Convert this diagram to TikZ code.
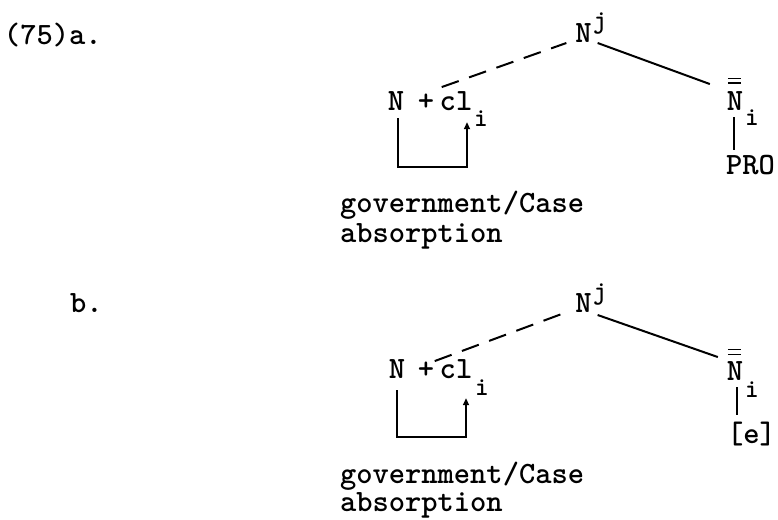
\documentclass[tikz,border=0pt]{standalone}
\usetikzlibrary{arrows.meta}
\newcommand\ttbig{\fontsize{31}{36}\selectfont\ttfamily\bfseries}
\newcommand\ttsmall{\fontsize{26}{30}\selectfont\ttfamily\bfseries}
\begin{document}
\begin{tikzpicture}[x=1pt,y=-1pt,
  lbl/.style={inner sep=0pt,outer sep=0pt,font=\ttbig,anchor=base},
  lblw/.style={inner sep=0pt,outer sep=0pt,font=\ttbig,anchor=base west},
  idx/.style={inner sep=0pt,outer sep=0pt,font=\ttsmall,anchor=base},
  branch/.style={line width=2pt},
  dbranch/.style={line width=2pt,dash pattern=on 18pt off 11pt},
  bracket/.style={line width=1.6pt},
  bar/.style={line width=1.6pt},
  tip/.style={-{Triangle[length=7pt,width=6pt]}}]
\useasboundingbox (0,0) rectangle (778,519);

% ---------- (75)a ----------
\node[lblw] (labA) at (4,45) {(75)a.};
\node[lbl] (Nja) at (583.5,42) {N};
\node[idx] (ja) at (600,29) {j};
\node[lbl] (Nla) at (396,110) {N};
\node[lbl] (plusa) at (426,110) {+};
\node[lbl] (cla) at (456,110) {cl};
\node[idx] (ia) at (481,126) {i};
\node[lbl] (Nba) at (735,110) {N};
\node[idx] (iba) at (752,125) {i};
\node[lblw] (PROa) at (726,174) {PRO};
\node[lblw] (gova) at (340,212) {government/Case};
\node[lblw] (absa) at (340,242) {absorption};

\draw[dbranch] ([shift={(2,-4)}]cla.north west) -- ([shift={(-9,1)}]Nja.south west);
\draw[branch] ([shift={(6,1)}]Nja.south east) -- ([shift={(-17,-7)}]Nba.north west);
\draw[bar] ([shift={(1,-12.7)}]Nba.north west) -- ([shift={(14,-12.7)}]Nba.north west);
\draw[bar] ([shift={(1,-8)}]Nba.north west) -- ([shift={(14,-8)}]Nba.north west);
\draw[branch] ([shift={(-1,7)}]Nba.south) -- ([shift={(-1,40)}]Nba.south);
\draw[bracket,tip] ([shift={(2,8)}]Nla.south) |- ([shift={(11,57)}]cla.south) -- ([shift={(11,12)}]cla.south);

% ---------- b ----------
\node[lblw] (labB) at (70,312) {b.};
\node[lbl] (Njb) at (583.5,312) {N};
\node[idx] (jb) at (600,299) {j};
\node[lbl] (Nlb) at (397,378) {N};
\node[lbl] (plusb) at (426,378) {+};
\node[lbl] (clb) at (456,378) {cl};
\node[idx] (ib) at (482,395) {i};
\node[lbl] (Nbb) at (735,380) {N};
\node[idx] (ibb) at (752,397) {i};
\node[lblw] (eb) at (727,443) {[e]};
\node[lblw] (govb) at (340,483) {government/Case};
\node[lblw] (absb) at (340,511) {absorption};

\draw[dbranch] ([shift={(-5,2)}]clb.north west) -- ([shift={(-11,1)}]Njb.south west);
\draw[branch] ([shift={(6,3)}]Njb.south east) -- ([shift={(-9,-4)}]Nbb.north west);
\draw[bar] ([shift={(1,-11.7)}]Nbb.north west) -- ([shift={(14,-11.7)}]Nbb.north west);
\draw[bar] ([shift={(1,-6.7)}]Nbb.north west) -- ([shift={(14,-6.7)}]Nbb.north west);
\draw[branch] ([shift={(2,7)}]Nbb.south) -- ([shift={(2,35)}]Nbb.south);
\draw[bracket,tip] ([shift={(0,12)}]Nlb.south) |- ([shift={(10,59)}]clb.south) -- ([shift={(10,20)}]clb.south);
\end{tikzpicture}
\end{document}
